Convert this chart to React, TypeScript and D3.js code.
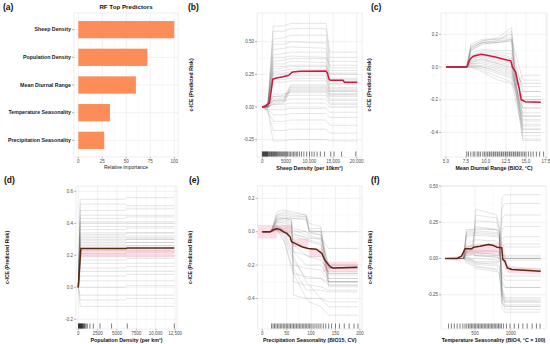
import React from 'react';
import * as d3 from 'd3';

const FONT = '"Liberation Sans", Arial, Helvetica, sans-serif';

// ---------- (a) RF variable importance ----------
const predictorNames = [
  'Sheep Density',
  'Population Density',
  'Mean Diurnal Range',
  'Temperature Seasonality',
  'Precipitation Seasonality',
];
const relImportance = [100, 72, 60, 33, 27];
const importanceTicks = [0, 25, 50, 75, 100];

// ---------- (b) sheep density ----------
const sheepGrid = [0, 1200, 2300, 4600, 6000, 13500, 14300, 20150];
const sheepIce = [
  [0, 0.03, 0.62, 0.62, 0.64, 0.64, 0.42, 0.42],
  [0, 0.02, 0.58, 0.58, 0.6, 0.6, 0.38, 0.38],
  [0, 0.04, 0.52, 0.53, 0.55, 0.55, 0.35, 0.35],
  [0, 0.02, 0.48, 0.48, 0.5, 0.49, 0.3, 0.3],
  [0, 0.01, 0.44, 0.45, 0.46, 0.45, 0.28, 0.28],
  [0, 0.03, 0.4, 0.41, 0.42, 0.42, 0.25, 0.25],
  [0, 0.02, 0.38, 0.38, 0.39, 0.38, 0.32, 0.32],
  [0, 0.0, 0.35, 0.36, 0.37, 0.37, 0.22, 0.22],
  [0, 0.02, 0.33, 0.33, 0.35, 0.34, 0.2, 0.2],
  [0, 0.01, 0.31, 0.31, 0.32, 0.32, 0.18, 0.18],
  [0, 0.02, 0.29, 0.3, 0.31, 0.31, 0.26, 0.26],
  [0, 0.0, 0.27, 0.28, 0.29, 0.29, 0.15, 0.15],
  [0, 0.01, 0.26, 0.26, 0.27, 0.27, 0.21, 0.21],
  [0, 0.02, 0.24, 0.25, 0.26, 0.26, 0.12, 0.12],
  [0, 0.0, 0.22, 0.23, 0.24, 0.24, 0.17, 0.17],
  [0, 0.01, 0.21, 0.21, 0.22, 0.22, 0.1, 0.1],
  [0, 0.0, 0.19, 0.19, 0.2, 0.2, 0.14, 0.14],
  [0, 0.0, 0.06, 0.07, 0.17, 0.17, 0.13, 0.13],
  [0, 0.01, 0.05, 0.06, 0.16, 0.16, 0.1, 0.1],
  [0, 0.0, 0.04, 0.05, 0.15, 0.15, 0.08, 0.08],
  [0, -0.01, 0.03, 0.04, 0.14, 0.14, 0.12, 0.12],
  [0, 0.0, 0.02, 0.03, 0.13, 0.13, 0.06, 0.06],
  [0, 0.01, 0.08, 0.09, 0.12, 0.12, 0.09, 0.09],
  [0, 0.0, 0.1, 0.1, 0.11, 0.11, 0.05, 0.05],
  [0, 0.0, 0.08, 0.08, 0.09, 0.09, 0.03, 0.03],
  [0, -0.01, 0.05, 0.05, 0.06, 0.06, 0.02, 0.02],
  [0, 0.0, 0.02, 0.02, 0.03, 0.03, 0.0, 0.0],
  [0, -0.02, -0.02, -0.02, -0.01, -0.01, -0.04, -0.04],
  [0, -0.02, -0.06, -0.06, -0.05, -0.05, -0.08, -0.08],
  [0, -0.03, -0.11, -0.11, -0.1, -0.1, -0.14, -0.14],
  [0, -0.03, -0.18, -0.18, -0.17, -0.17, -0.2, -0.2],
  [0, -0.04, -0.26, -0.26, -0.25, -0.25, -0.26, -0.26],
];
const sheepMean: [number, number][] = [
  [0, 0], [600, 0.005], [1100, 0.02], [1500, 0.03], [1800, 0.1], [2200, 0.212],
  [3000, 0.222], [4400, 0.232], [5600, 0.243], [6400, 0.268], [8000, 0.273],
  [13500, 0.275], [13800, 0.26], [14100, 0.215], [14400, 0.205], [17100, 0.205],
  [17400, 0.19], [20150, 0.19],
];
const sheepRug = [
  0, 100, 200, 300, 400, 500, 600, 700, 800, 900, 1000, 1100, 1200, 1350, 1500, 1650,
  1800, 1950, 2100, 2250, 2400, 2550, 2700, 2850, 3000, 3200, 3400, 3600, 3800, 4000,
  4200, 4400, 4600, 4800, 5000, 5200, 5400, 5700, 6000, 6300, 6600, 6900, 7200, 7500,
  7900, 8300, 8800, 9400, 10000, 10500, 11000, 11600, 12300, 13200, 14500, 15200,
  16800, 19800,
];
const sheepXTicks = [0, 5000, 10000, 15000, 20000];
const sheepXLabels = ['0', '5000', '10,000', '15,000', '20,000'];
const sheepYTicks = [-0.25, 0, 0.25, 0.5];
const sheepYLabels = ['-0.25', '0.00', '0.25', '0.50'];

// ---------- (c) mean diurnal range ----------
const bio2Grid = [5, 7.6, 8.1, 9.5, 11.5, 13.2, 13.6, 14.6, 16.85];
const bio2Ice = [
  [0, 0, 0.14, 0.17, 0.17, 0.18, 0.1, -0.08, -0.08],
  [0, 0, 0.13, 0.16, 0.17, 0.2, 0.05, -0.15, -0.15],
  [0, 0, 0.12, 0.16, 0.18, 0.24, 0.0, -0.3, -0.3],
  [0, 0, 0.12, 0.15, 0.16, 0.22, -0.05, -0.38, -0.38],
  [0, 0, 0.11, 0.15, 0.16, 0.17, -0.02, -0.42, -0.42],
  [0, 0, 0.1, 0.14, 0.15, 0.16, -0.1, -0.45, -0.45],
  [0, 0, 0.1, 0.14, 0.15, 0.17, -0.05, -0.35, -0.35],
  [0, 0, 0.11, 0.15, 0.15, 0.16, 0.0, -0.25, -0.25],
  [0, 0, 0.08, 0.11, 0.1, 0.1, 0.0, -0.12, -0.12],
  [0, 0, 0.06, 0.1, 0.09, 0.08, -0.05, -0.2, -0.2],
  [0, 0, 0.07, 0.09, 0.08, 0.06, -0.03, -0.22, -0.22],
  [0, 0, 0.05, 0.08, 0.07, 0.05, -0.08, -0.32, -0.32],
  [0, 0, 0.04, 0.07, 0.05, 0.03, -0.1, -0.4, -0.4],
  [0, 0, 0.06, 0.06, 0.04, 0.02, -0.12, -0.28, -0.28],
  [0, 0, 0.03, 0.05, 0.03, 0.01, -0.06, -0.18, -0.18],
  [0, 0, 0.04, 0.05, 0.02, -0.01, -0.1, -0.36, -0.36],
  [0, 0, 0.02, 0.03, 0.01, -0.02, -0.08, -0.3, -0.3],
  [0, 0, 0.03, 0.04, 0.02, 0.0, -0.04, -0.1, -0.1],
  [0, 0, 0.02, 0.02, 0.0, -0.03, -0.12, -0.44, -0.44],
  [0, 0, 0.01, 0.0, -0.02, -0.05, -0.1, -0.25, -0.25],
  [0, 0, 0.0, -0.01, -0.04, -0.07, -0.15, -0.33, -0.33],
  [0, 0, 0.01, -0.02, -0.06, -0.09, -0.14, -0.2, -0.2],
  [0, 0, 0.0, -0.03, -0.08, -0.1, -0.18, -0.38, -0.38],
  [0, 0, 0.0, 0.01, -0.01, -0.04, -0.08, -0.15, -0.15],
  [0, 0, 0.02, 0.0, -0.03, -0.06, -0.12, -0.05, -0.05],
];
const bio2Mean: [number, number][] = [
  [5, 0], [7.6, 0], [8.0, 0.047], [8.4, 0.066], [9.4, 0.078], [10.1, 0.072],
  [11.3, 0.06], [12.6, 0.043], [13.1, 0.039], [13.3, 0.0], [13.7, -0.03],
  [14.1, -0.12], [14.4, -0.2], [14.9, -0.212], [16.85, -0.215],
];
const bio2Rug = [
  7.6, 7.8, 8.1, 8.4, 8.6, 8.9, 9.1, 9.3, 9.6, 9.8, 10.0, 10.2, 10.4, 10.5, 10.7, 10.9,
  11.0, 11.2, 11.4, 11.5, 11.7, 11.9, 12.0, 12.2, 12.4, 12.5, 12.7, 12.9, 13.0, 13.2,
  13.4, 13.5, 13.7, 13.9, 14.0, 14.2, 14.4, 14.6, 14.8, 15.0, 15.3, 15.6, 15.9, 16.3,
  16.7, 17.2,
];
const bio2XTicks = [5, 7.5, 10, 12.5, 15, 17.5];
const bio2XLabels = ['5.0', '7.5', '10.0', '12.5', '15.0', '17.5'];
const bio2YTicks = [-0.4, -0.2, 0, 0.2];
const bio2YLabels = ['-0.4', '-0.2', '0.0', '0.2'];

// ---------- (d) population density ----------
const popGrid = [0, 250, 6000, 6300, 12400];
const popIce = [
  [0, 0.55, 0.55, 0.56, 0.56], [0, 0.52, 0.52, 0.51, 0.51], [0, 0.48, 0.48, 0.49, 0.49],
  [0, 0.45, 0.45, 0.45, 0.45], [0, 0.43, 0.43, 0.44, 0.44], [0, 0.41, 0.41, 0.4, 0.4],
  [0, 0.4, 0.4, 0.41, 0.41], [0, 0.38, 0.38, 0.38, 0.38], [0, 0.36, 0.36, 0.37, 0.37],
  [0, 0.34, 0.34, 0.34, 0.34], [0, 0.33, 0.33, 0.34, 0.34], [0, 0.32, 0.32, 0.31, 0.31],
  [0, 0.31, 0.31, 0.32, 0.32], [0, 0.3, 0.3, 0.3, 0.3], [0, 0.29, 0.29, 0.3, 0.3],
  [0, 0.28, 0.28, 0.28, 0.28], [0, 0.27, 0.27, 0.28, 0.28], [0, 0.26, 0.26, 0.26, 0.26],
  [0, 0.25, 0.25, 0.26, 0.26], [0, 0.23, 0.23, 0.23, 0.23], [0, 0.21, 0.21, 0.22, 0.22],
  [0, 0.19, 0.19, 0.19, 0.19], [0, 0.17, 0.17, 0.18, 0.18], [0, 0.15, 0.15, 0.15, 0.15],
  [0, 0.12, 0.12, 0.13, 0.13], [0, 0.1, 0.1, 0.1, 0.1], [0, 0.07, 0.07, 0.08, 0.08],
  [0, 0.04, 0.04, 0.04, 0.04], [0, 0.0, 0.0, 0.01, 0.01], [0, -0.05, -0.05, -0.05, -0.05],
  [0, -0.08, -0.08, -0.07, -0.07], [0, -0.12, -0.12, -0.12, -0.12],
];
const popMean: [number, number][] = [
  [0, 0], [330, 0.243], [6250, 0.243], [6300, 0.246], [12400, 0.246],
];
const popBandX = [0, 300, 12400];
const popBandLo = [0, 0.19, 0.19];
const popBandHi = [0, 0.245, 0.245];
const popRug = [
  20, 60, 100, 150, 200, 250, 300, 350, 400, 450, 500, 560, 620, 700, 780, 860, 1000,
  1160, 1500, 1940, 2800, 4300, 6330, 12400,
];
const popXTicks = [0, 2500, 5000, 7500, 10000, 12500];
const popXLabels = ['0', '2500', '5000', '7500', '10,000', '12,500'];
const popYTicks = [-0.2, 0, 0.2, 0.4, 0.6];
const popYLabels = ['-0.2', '0.0', '0.2', '0.4', '0.6'];

// ---------- (e) precipitation seasonality ----------
const bio15Grid = [0, 18, 30, 45, 60, 64, 90, 96, 120, 136, 196];
const bio15Ice = [
  [0, 0, 0.1, 0.12, 0.11, 0.11, 0.1, 0.02, 0.02, -0.22, -0.22],
  [0, 0, 0.09, 0.1, 0.09, 0.09, 0.09, 0.0, 0.0, -0.3, -0.3],
  [0, 0, 0.08, 0.09, 0.08, 0.08, 0.08, 0.01, 0.0, -0.25, -0.25],
  [0, 0, 0.1, 0.11, 0.1, 0.1, 0.09, 0.0, 0.0, 0.0, 0.0],
  [0, 0, 0.12, 0.13, 0.12, 0.12, 0.1, 0.05, 0.03, -0.33, -0.33],
  [0, 0, 0.07, 0.08, 0.08, 0.08, 0.07, 0.0, -0.02, -0.28, -0.28],
  [0, 0, 0.07, 0.08, 0.07, -0.3, -0.32, -0.32, -0.33, -0.35, -0.35],
  [0, 0, 0.06, 0.07, 0.06, -0.2, -0.22, -0.22, -0.23, -0.3, -0.3],
  [0, 0, 0.05, 0.06, 0.05, -0.38, -0.4, -0.4, -0.4, -0.42, -0.42],
  [0, 0, 0.08, 0.08, 0.07, -0.12, -0.14, -0.15, -0.15, -0.25, -0.25],
  [0, 0, 0.06, 0.05, 0.04, -0.25, -0.27, -0.27, -0.28, -0.3, -0.3],
  [0, 0, 0.04, 0.0, -0.1, -0.12, -0.2, -0.2, -0.2, -0.28, -0.28],
  [0, 0, 0.03, -0.03, -0.15, -0.17, -0.28, -0.28, -0.28, -0.32, -0.32],
  [0, 0, 0.02, -0.05, -0.2, -0.22, -0.35, -0.35, -0.35, -0.36, -0.36],
  [0, 0, 0.03, -0.02, -0.12, -0.15, -0.3, -0.32, -0.4, -0.45, -0.45],
  [0, 0, 0.01, -0.06, -0.22, -0.25, -0.4, -0.42, -0.45, -0.5, -0.5],
  [0, 0, 0.02, 0.0, -0.06, -0.08, -0.14, -0.15, -0.17, -0.24, -0.24],
  [0, 0, 0.03, 0.01, -0.04, -0.05, -0.1, -0.1, -0.12, -0.2, -0.2],
  [0, 0, 0.02, 0.02, 0.01, 0.0, 0.0, -0.01, -0.02, -0.22, -0.22],
  [0, 0, 0.03, 0.03, 0.02, 0.01, -0.02, -0.03, -0.05, -0.3, -0.3],
  [0, 0, 0.01, 0.0, -0.02, -0.03, -0.05, -0.06, -0.08, -0.32, -0.32],
  [0, 0, 0.02, 0.01, 0.0, -0.01, -0.04, -0.05, -0.07, -0.26, -0.26],
  [0, 0, 0.04, 0.04, 0.03, 0.02, 0.0, -0.02, -0.04, -0.2, -0.2],
  [0, 0, 0.01, 0.0, -0.01, -0.02, -0.03, -0.04, -0.04, -0.1, -0.1],
];
const bio15Mean: [number, number][] = [
  [0, 0], [16, 0], [22, 0.01], [29, 0.018], [36, 0.014], [43, 0.0], [50, -0.01],
  [57, -0.03], [60, -0.06], [67, -0.07], [81, -0.09], [94, -0.1], [111, -0.105],
  [122, -0.13], [128, -0.17], [139, -0.21], [145, -0.217], [195, -0.213],
];
const bio15BandX = [-9, 30, 30, 60, 60, 95, 95, 125, 125, 195];
const bio15BandLo = [-0.04, -0.04, -0.01, -0.01, -0.09, -0.09, -0.15, -0.15, -0.24, -0.24];
const bio15BandHi = [0.04, 0.04, 0.04, 0.04, -0.04, -0.04, -0.1, -0.1, -0.18, -0.18];
const bio15Rug = [
  19, 22, 25, 28, 31, 34, 37, 40, 43, 46, 49, 52, 55, 58, 61, 64, 67, 70, 73, 76, 79, 82,
  85, 88, 91, 94, 97, 100, 104, 108, 112, 116, 120, 125, 130, 136, 142, 150, 158, 168,
  178, 188, 196,
];
const bio15XTicks = [0, 50, 100, 150, 200];
const bio15XLabels = ['0', '50', '100', '150', '200'];
const bio15YTicks = [-0.4, -0.2, 0, 0.2];
const bio15YLabels = ['-0.4', '-0.2', '0.0', '0.2'];

// ---------- (f) temperature seasonality ----------
const bio4Grid = [80, 340, 380, 470, 510, 800, 840, 880, 920, 1420];
const bio4Ice = [
  [0, 0, 0.19, 0.2, 0.2, 0.2, 0.19, -0.28, -0.3, -0.3],
  [0, 0, 0.18, 0.19, 0.19, 0.18, 0.17, -0.25, -0.32, -0.32],
  [0, 0, 0.17, 0.18, 0.18, 0.17, 0.16, -0.3, -0.35, -0.35],
  [0, 0.01, 0.16, 0.17, 0.17, 0.16, 0.15, -0.2, -0.27, -0.27],
  [0, 0, 0.15, 0.16, 0.16, 0.15, 0.14, -0.22, -0.29, -0.29],
  [0, 0, 0.2, 0.2, 0.21, 0.2, 0.18, 0.05, 0.0, 0.0],
  [0, 0, 0.06, 0.08, 0.3, 0.28, 0.2, -0.3, -0.33, -0.33],
  [0, 0, 0.05, 0.07, 0.34, 0.3, 0.22, 0.1, 0.08, 0.08],
  [0, 0, 0.07, 0.1, 0.26, 0.25, 0.18, -0.15, -0.2, -0.2],
  [0, 0, 0.04, 0.06, 0.22, 0.2, 0.15, -0.25, -0.3, -0.3],
  [0, 0, 0.02, 0.02, 0.02, 0.01, 0.0, 0.0, 0.0, 0.0],
  [0, 0, 0.01, 0.0, 0.0, -0.01, -0.01, -0.01, 0.01, 0.01],
  [0, 0, 0.0, -0.01, -0.02, -0.02, -0.02, 0.0, 0.0, 0.0],
  [0, 0, 0.03, 0.03, 0.02, 0.02, 0.02, 0.02, 0.02, 0.02],
  [0, 0, -0.01, -0.02, -0.03, -0.03, -0.02, -0.01, -0.01, -0.01],
  [0, 0, 0.05, 0.06, 0.05, 0.05, 0.04, 0.42, 0.44, 0.44],
  [0, 0, 0.04, 0.05, 0.04, 0.03, 0.02, 0.35, 0.38, 0.38],
  [0, 0, 0.06, 0.07, 0.06, 0.05, 0.03, 0.28, 0.3, 0.3],
  [0, 0, 0.03, 0.04, 0.03, 0.02, 0.0, 0.2, 0.22, 0.22],
  [0, 0, 0.02, 0.03, 0.02, 0.01, 0.0, 0.14, 0.15, 0.15],
  [0, 0, 0.05, 0.05, 0.04, 0.03, 0.02, 0.08, 0.1, 0.1],
  [0, 0, -0.02, -0.04, -0.06, -0.07, -0.08, -0.3, -0.33, -0.33],
  [0, 0, -0.01, -0.03, -0.05, -0.08, -0.1, -0.25, -0.28, -0.28],
  [0, 0, 0.0, -0.02, -0.04, -0.05, -0.06, -0.12, -0.15, -0.15],
  [0, 0, 0.01, -0.01, -0.03, -0.04, -0.05, -0.18, -0.2, -0.2],
  [0, 0, -0.03, -0.05, -0.07, -0.09, -0.1, -0.35, -0.37, -0.37],
  [0, 0, 0.08, 0.09, 0.1, 0.09, 0.08, -0.05, -0.07, -0.07],
  [0, 0, 0.1, 0.12, 0.13, 0.12, 0.1, -0.1, -0.12, -0.12],
];
const bio4Mean: [number, number][] = [
  [80, 0], [250, 0], [310, 0.016], [340, 0.044], [360, 0.067], [455, 0.067],
  [480, 0.078], [570, 0.085], [690, 0.096], [760, 0.089], [805, 0.078], [875, 0.074],
  [888, -0.005], [920, -0.02], [952, -0.064], [1015, -0.076], [1130, -0.08], [1420, -0.088],
];
const bio4BandX = [80, 300, 360, 870, 890, 960, 1420];
const bio4BandLo = [0, -0.02, 0.03, 0.04, -0.03, -0.1, -0.11];
const bio4BandHi = [0, 0.02, 0.09, 0.11, 0.1, -0.05, -0.07];
const bio4Rug = [
  130, 170, 210, 250, 290, 330, 360, 385, 410, 430, 450, 470, 490, 510, 530, 550, 570,
  590, 610, 630, 650, 670, 690, 710, 730, 750, 770, 790, 810, 830, 850, 870, 900, 940,
  990, 1050, 1110, 1170, 1230, 1300, 1360, 1410,
];
const bio4XTicks = [500, 1000];
const bio4XLabels = ['500', '1000'];
const bio4YTicks = [-0.25, 0, 0.25, 0.5];
const bio4YLabels = ['-0.25', '0.00', '0.25', '0.50'];

const RED = '#d4143c';
const BROWN = '#5a2a12';

type Box = { l: number; r: number; t: number; b: number };

function midpoints(ticks: number[]) {
  return d3.pairs(ticks).map(([a, b]) => (a + b) / 2);
}

function Tag({ x, y, text }: { x: number; y: number; text: string }) {
  return (
    <text x={x} y={y} fontSize={8.5} fontWeight="bold" fill="#111">{text}</text>
  );
}

type IceProps = {
  tag: string;
  tagX: number;
  tagY: number;
  box: Box;
  xDomain: [number, number];
  yDomain: [number, number];
  grid: number[];
  ice: number[][];
  mean: [number, number][];
  meanColor: string;
  band?: { x: number[]; lo: number[]; hi: number[] };
  rug: number[];
  xTicks: number[];
  xLabels: string[];
  yTicks: number[];
  yLabels: string[];
  xTitle: string;
  yTitleX: number;
};

function IcePanel(p: IceProps) {
  const { box } = p;
  const x = d3.scaleLinear().domain(p.xDomain).range([box.l, box.r]);
  const y = d3.scaleLinear().domain(p.yDomain).range([box.b, box.t]);
  const iceLine = d3.line<number>().x((_, i) => x(p.grid[i])).y((d) => y(d));
  const meanLine = d3.line<[number, number]>().x((d) => x(d[0])).y((d) => y(d[1]));
  let bandPath: string | null = null;
  if (p.band) {
    const band = p.band;
    bandPath = d3.area<number>()
      .x((d) => x(d))
      .y0((_, i) => y(band.lo[i]))
      .y1((_, i) => y(band.hi[i]))(band.x);
  }
  const clipId = `clip-${p.tag.replace(/[()]/g, '')}`;
  const xMinor = midpoints(p.xTicks);
  const yMinor = midpoints(p.yTicks);
  const cy = (box.t + box.b) / 2;

  return (
    <g>
      <defs>
        <clipPath id={clipId}>
          <rect x={box.l} y={box.t} width={box.r - box.l} height={box.b - box.t} />
        </clipPath>
      </defs>
      <rect x={box.l} y={box.t} width={box.r - box.l} height={box.b - box.t} fill="#fff" />
      {xMinor.map((v) => (
        <line key={`xm${v}`} x1={x(v)} x2={x(v)} y1={box.t} y2={box.b} stroke="#f3f3f3" strokeWidth={0.4} />
      ))}
      {yMinor.map((v) => (
        <line key={`ym${v}`} x1={box.l} x2={box.r} y1={y(v)} y2={y(v)} stroke="#f3f3f3" strokeWidth={0.4} />
      ))}
      {p.xTicks.map((v) => (
        <line key={`xg${v}`} x1={x(v)} x2={x(v)} y1={box.t} y2={box.b} stroke="#e3e3e3" strokeWidth={0.5} />
      ))}
      {p.yTicks.map((v) => (
        <line key={`yg${v}`} x1={box.l} x2={box.r} y1={y(v)} y2={y(v)} stroke="#e3e3e3" strokeWidth={0.5} />
      ))}
      <g clipPath={`url(#${clipId})`}>
        {p.ice.map((row, i) => (
          <path key={i} d={iceLine(row) || ''} fill="none" stroke="#666" strokeOpacity={0.3} strokeWidth={0.55} />
        ))}
        {bandPath && <path d={bandPath} fill="#ff5c8a" fillOpacity={0.2} />}
        <path d={meanLine(p.mean) || ''} fill="none" stroke={p.meanColor} strokeWidth={1.5} strokeLinejoin="round" />
        {p.rug.map((v, i) => (
          <line key={`r${i}`} x1={x(v)} x2={x(v)} y1={box.b - 0.3} y2={box.b - 5.5} stroke="#000" strokeOpacity={0.85} strokeWidth={0.6} />
        ))}
      </g>
      <rect x={box.l} y={box.t} width={box.r - box.l} height={box.b - box.t} fill="none" stroke="#dcdcdc" strokeWidth={0.5} />
      {p.yTicks.map((v, i) => (
        <g key={`yt${v}`}>
          <line x1={box.l - 2} x2={box.l} y1={y(v)} y2={y(v)} stroke="#444" strokeWidth={0.4} />
          <text x={box.l - 3} y={y(v) + 1.6} fontSize={4.5} fill="#4d4d4d" textAnchor="end">{p.yLabels[i]}</text>
        </g>
      ))}
      {p.xTicks.map((v, i) => (
        <g key={`xt${v}`}>
          <line x1={x(v)} x2={x(v)} y1={box.b} y2={box.b + 1.5} stroke="#444" strokeWidth={0.4} />
          <text x={x(v)} y={box.b + 5.5} fontSize={4.5} fill="#4d4d4d" textAnchor="middle">{p.xLabels[i]}</text>
        </g>
      ))}
      <text x={(box.l + box.r) / 2} y={box.b + 12.5} fontSize={5.3} fontWeight="bold" fill="#111" textAnchor="middle">{p.xTitle}</text>
      <text
        transform={`translate(${p.yTitleX},${cy}) rotate(-90)`}
        fontSize={5.1}
        fontWeight="bold"
        fill="#111"
        textAnchor="middle"
        dy="0.35em"
      >
        c-ICE (Predicted Risk)
      </text>
      <Tag x={p.tagX} y={p.tagY} text={p.tag} />
    </g>
  );
}

function ImportancePanel() {
  const box: Box = { l: 74, r: 178, t: 13, b: 157 };
  const x = d3.scaleLinear().domain([-4.5, 103.9]).range([box.l, box.r]);
  const y = d3.scaleBand<string>()
    .domain(predictorNames)
    .range([box.t, box.b])
    .paddingInner(0.375)
    .paddingOuter(0.2875);
  const minor = midpoints(importanceTicks);
  return (
    <g>
      <rect x={box.l} y={box.t} width={box.r - box.l} height={box.b - box.t} fill="#fff" />
      {minor.map((v) => (
        <line key={`m${v}`} x1={x(v)} x2={x(v)} y1={box.t} y2={box.b} stroke="#f3f3f3" strokeWidth={0.4} />
      ))}
      {importanceTicks.map((v) => (
        <line key={`g${v}`} x1={x(v)} x2={x(v)} y1={box.t} y2={box.b} stroke="#e3e3e3" strokeWidth={0.5} />
      ))}
      {predictorNames.map((n) => (
        <line key={`h${n}`} x1={box.l} x2={box.r} y1={(y(n) || 0) + y.bandwidth() / 2} y2={(y(n) || 0) + y.bandwidth() / 2} stroke="#e3e3e3" strokeWidth={0.5} />
      ))}
      {predictorNames.map((n, i) => (
        <rect key={n} x={x(0)} y={y(n)} width={x(relImportance[i]) - x(0)} height={y.bandwidth()} fill="#fc8d59" />
      ))}
      <rect x={box.l} y={box.t} width={box.r - box.l} height={box.b - box.t} fill="none" stroke="#dcdcdc" strokeWidth={0.5} />
      {predictorNames.map((n) => {
        const cy = (y(n) || 0) + y.bandwidth() / 2;
        return (
          <g key={`l${n}`}>
            <line x1={box.l - 2} x2={box.l} y1={cy} y2={cy} stroke="#444" strokeWidth={0.4} />
            <text x={box.l - 3} y={cy + 1.8} fontSize={5.3} fontWeight="bold" fill="#222" textAnchor="end">{n}</text>
          </g>
        );
      })}
      {importanceTicks.map((v) => (
        <g key={`t${v}`}>
          <line x1={x(v)} x2={x(v)} y1={box.b} y2={box.b + 1.5} stroke="#444" strokeWidth={0.4} />
          <text x={x(v)} y={box.b + 5.5} fontSize={4.5} fill="#4d4d4d" textAnchor="middle">{v}</text>
        </g>
      ))}
      <text x={(box.l + box.r) / 2} y={box.b + 12} fontSize={5} fill="#222" textAnchor="middle">Relative importance</text>
      <text x={126} y={9} fontSize={6.2} fontWeight="bold" fill="#111" textAnchor="middle">RF Top Predictors</text>
      <Tag x={3} y={10} text="(a)" />
    </g>
  );
}

export default function App() {
  return (
    <svg
      width={550}
      height={344}
      viewBox="0 0 550 344"
      style={{ position: 'absolute', left: 0, top: 0, background: '#fff', fontFamily: FONT }}
    >
      <rect width={550} height={344} fill="#fff" />
      <ImportancePanel />
      <IcePanel
        tag="(b)" tagX={188} tagY={10}
        box={{ l: 257, r: 362, t: 13, b: 157 }}
        xDomain={[-1120, 21120]} yDomain={[-0.383, 0.72]}
        grid={sheepGrid} ice={sheepIce} mean={sheepMean} meanColor={RED}
        rug={sheepRug}
        xTicks={sheepXTicks} xLabels={sheepXLabels} yTicks={sheepYTicks} yLabels={sheepYLabels}
        xTitle="Sheep Density (per 10km²)" yTitleX={191}
      />
      <IcePanel
        tag="(c)" tagX={371} tagY={10}
        box={{ l: 441, r: 547, t: 13, b: 157 }}
        xDomain={[4.375, 17.625]} yDomain={[-0.55, 0.33]}
        grid={bio2Grid} ice={bio2Ice} mean={bio2Mean} meanColor={RED}
        rug={bio2Rug}
        xTicks={bio2XTicks} xLabels={bio2XLabels} yTicks={bio2YTicks} yLabels={bio2YLabels}
        xTitle="Mean Diurnal Range (BIO2, °C)" yTitleX={369}
      />
      <IcePanel
        tag="(d)" tagX={4} tagY={183}
        box={{ l: 76, r: 177, t: 186, b: 329 }}
        xDomain={[-297, 12752]} yDomain={[-0.261, 0.633]}
        grid={popGrid} ice={popIce} mean={popMean} meanColor={BROWN}
        band={{ x: popBandX, lo: popBandLo, hi: popBandHi }}
        rug={popRug}
        xTicks={popXTicks} xLabels={popXLabels} yTicks={popYTicks} yLabels={popYLabels}
        xTitle="Population Density (per km²)" yTitleX={7}
      />
      <IcePanel
        tag="(e)" tagX={189} tagY={183}
        box={{ l: 257.5, r: 362, t: 186, b: 329 }}
        xDomain={[-9.8, 204.3]} yDomain={[-0.583, 0.274]}
        grid={bio15Grid} ice={bio15Ice} mean={bio15Mean} meanColor={BROWN}
        band={{ x: bio15BandX, lo: bio15BandLo, hi: bio15BandHi }}
        rug={bio15Rug}
        xTicks={bio15XTicks} xLabels={bio15XLabels} yTicks={bio15YTicks} yLabels={bio15YLabels}
        xTitle="Precipitation Seasonality (BIO15, CV)" yTitleX={190}
      />
      <IcePanel
        tag="(f)" tagX={371} tagY={183}
        box={{ l: 441, r: 546, t: 186, b: 329 }}
        xDomain={[24, 1494]} yDomain={[-0.486, 0.5]}
        grid={bio4Grid} ice={bio4Ice} mean={bio4Mean} meanColor={BROWN}
        band={{ x: bio4BandX, lo: bio4BandLo, hi: bio4BandHi }}
        rug={bio4Rug}
        xTicks={bio4XTicks} xLabels={bio4XLabels} yTicks={bio4YTicks} yLabels={bio4YLabels}
        xTitle="Temperature Seasonality (BIO4, °C × 100)" yTitleX={370}
      />
    </svg>
  );
}
